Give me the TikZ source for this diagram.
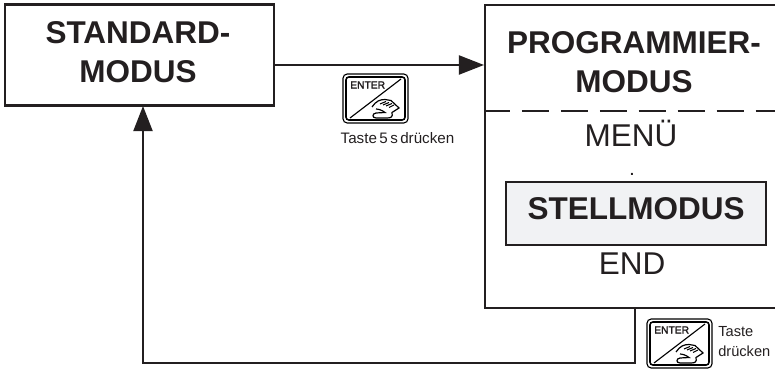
\documentclass[tikz,border=0pt]{standalone}
\usepackage{fontspec}
\setmainfont{Liberation Sans}
\newfontfamily\keyfont[FakeBold=2.5]{Liberation Sans}
\usetikzlibrary{arrows.meta}
\definecolor{inkdark}{HTML}{231F20}
\definecolor{stellgray}{HTML}{F1F2F4}
\tikzset{
	enterkey/.pic={
		\draw[line width=0.8pt, rounded corners=3pt] (0,0) rectangle (65,49);
		\draw[line width=1.1pt, rounded corners=2pt] (3,3) rectangle (62,46);
		\draw[line width=0.8pt] (7,44) -- (58,5);
		\node[font=\fontsize{7.3}{8}\keyfont, anchor=west, inner sep=0pt] (keylabel) at (7,11) {ENTER};
		\draw[line width=0.85pt] (29,33) .. controls (33,27) and (37,25.5) .. (42,25.5) -- (48,26.5) -- (56,34) -- (49,38.5)
			.. controls (50,43) and (48,44) .. (44,44) -- (33,44) .. controls (29,44) and (29,39.5) .. (33,39) -- (42,38.5)
			.. controls (39,36) and (35,35) .. (33,35);
		\draw[line width=0.75pt] (37,30) -- (43,27.5) (40,31) -- (46,28.5) (43,32) -- (49,29.5) (46,33.5) -- (51,31);
	}
}

\begin{document}
\begin{tikzpicture}[x=0.025cm, y=-0.025cm, every node/.style={text=inkdark, align=center, inner sep=0pt},
	modetext/.style={font=\fontsize{22.4}{27.7}\selectfont\bfseries},
	menutext/.style={font=\fontsize{22.4}{26}\selectfont, anchor=base},
	notetext/.style={font=\fontsize{10.4}{14.2}\selectfont},
	boxline/.style={draw=inkdark, line width=1.9pt},
	flow/.style={draw=inkdark, line width=1.5pt, -{Triangle[length=17.8pt, width=13.5pt]}}]
	\useasboundingbox (0,0) rectangle (775,372);
	\node[boxline, minimum width=269*0.025cm, minimum height=101*0.025cm] (standardbox) at (139.5,55) {};
	\node[modetext] (standardtext) at (138,52.5) {STANDARD-\\MODUS};
	\draw[boxline] (775,5) -- (485,5) -- (485,308) -- (775,308);
	\draw[draw=inkdark, line width=1.6pt, dash pattern=on 19.2pt off 8.5pt, dash phase=1.5pt] (485,111) -- (775,111);
	\node[modetext] (progtext) at (634,62.5) {PROGRAMMIER-\\MODUS};
	\node[menutext] (menulabel) at (631,147) {MENÜ};
	\node[font=\normalsize\bfseries, anchor=base] (menudot) at (632,176) {.};
	\node[boxline, fill=stellgray, minimum width=260*0.025cm, minimum height=63*0.025cm] (stellbox) at (636,213.5) {};
	\node[modetext] (stelltext) at (636,208.5) {STELLMODUS};
	\node[menutext] (endlabel) at (632,275) {END};
	\coordinate (progin) at (484,65);
	\coordinate (progout) at (635,308);
	\coordinate (retcorner) at (143,363);
	\coordinate (standardin) at (143,106);
	\draw[flow] (standardbox.east |- progin) -- (progin);
	\draw[flow] (progout) |- (retcorner) -- (standardin);
	\pic at (343,74) {enterkey};
	\node[notetext, font=\fontsize{10.8}{14.2}\selectfont] (note5s) at (397.5,138) {\spaceskip=0.16em Taste 5 s drücken};
	\pic at (647,319) {enterkey};
	\node[notetext, align=left, anchor=west] (notepress) at (718,342) {Taste\\drücken};
\end{tikzpicture}
\end{document}
